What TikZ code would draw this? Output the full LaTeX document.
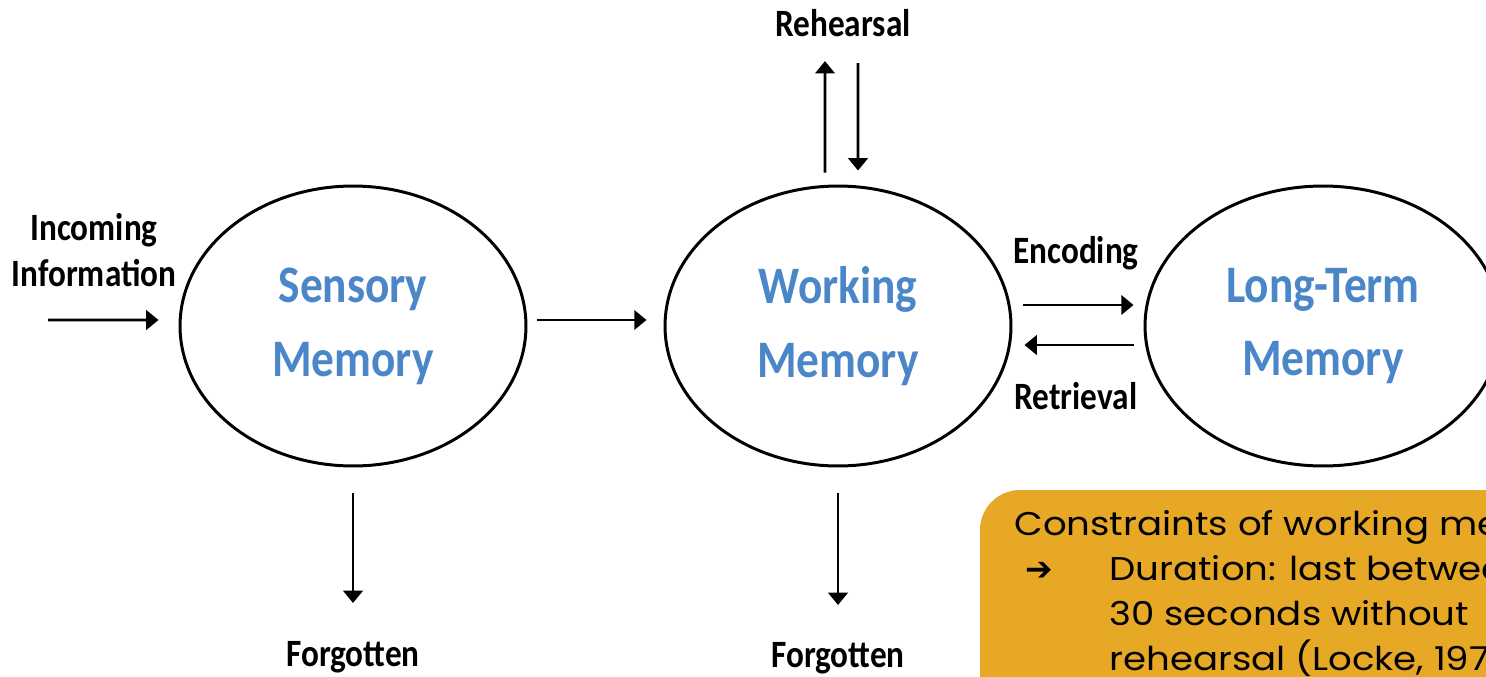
\documentclass[tikz,border=0pt]{standalone}
\usepackage{fontspec}
\newfontfamily\handfont[FakeStretch=0.86]{Carlito}
\newfontfamily\notefont[FakeStretch=1.13]{Poppins}
\newfontfamily\symfont{DejaVu Sans}
\usetikzlibrary{
  shapes.geometric,
  positioning,
  arrows.meta
}

\definecolor{memblue}{HTML}{4A86C8}
\definecolor{notegold}{HTML}{E6A825}

\tikzset{
  mem/.style = {ellipse, draw, line width=1.7pt, inner sep=0pt,
    minimum width=6.92cm, minimum height=5.6cm, text=memblue, align=center,
    font=\handfont\bfseries\fontsize{30}{42}\selectfont},
  lbl/.style = {inner sep=0pt, align=center,
    font=\handfont\bfseries\fontsize{22}{26}\selectfont},
  noteline/.style = {inner sep=0pt, anchor=base west,
    font=\notefont\fontsize{18.7}{25.5}\selectfont}
}

\begin{document}
\begin{tikzpicture}[x=0.02cm, y=-0.02cm, line width=1.6pt,
    >={Triangle[length=7pt, width=11pt]}]
    \useasboundingbox (0,0) rectangle (1486,676);
    \clip (0,0) rectangle (1486,676);

    % the three stores
    \node[mem] (sensory) at (353,326) {Sensory\\Memory};
    \node[mem] (working) at (838,326) {Working\\Memory};
    \node[mem, minimum width=7.12cm] (longterm) at (1323,326) {Long-Term\\Memory};

    % labels
    \node[lbl] (incoming) at (94,250) {Incoming\\Information};
    \node[lbl] (rehearsal) at (843,23) {Rehearsal};
    \node[lbl] (encoding) at (1076,253) {Encoding};
    \node[lbl, below=2.2cm of encoding] (retrieval) {Retrieval};
    \node[lbl, anchor=north] (forgot1) at (353,640) {Forgotten};
    \node[lbl, anchor=north] (forgot2) at (838,641) {Forgotten};
    \coordinate (in) at (48,320);

    % flow
    \draw[->, shorten >=0.4cm] (in) -- ([yshift=0.12cm]sensory.west);
    \draw[->, shorten <=0.2cm, shorten >=0.34cm]
      ([yshift=0.12cm]sensory.east) -- ([yshift=0.12cm]working.west);
    \draw[->, shorten <=0.22cm, shorten >=0.2cm]
      ([yshift=0.42cm]working.east) -- ([yshift=0.42cm]longterm.west);
    \draw[->, shorten <=0.2cm, shorten >=0.24cm]
      ([yshift=-0.38cm]longterm.west) -- ([yshift=-0.38cm]working.east);
    \draw[->, shorten <=0.24cm, shorten >=0.46cm]
      ([xshift=-0.26cm]working.north) -- ([xshift=-0.36cm]rehearsal.south);
    \draw[->, shorten <=0.5cm, shorten >=0.28cm]
      ([xshift=0.3cm]rehearsal.south) -- ([xshift=0.4cm]working.north);
    \draw[->, shorten <=0.52cm, shorten >=0.74cm] (sensory.south) -- (forgot1.north);
    \draw[->, shorten <=0.52cm, shorten >=0.72cm] (working.south) -- (forgot2.north);

    % note box
    \fill[notegold, rounded corners=0.8cm] (980,490) rectangle (1560,720);
    \node[noteline] (head) at (1013,535) {Constraints of working memory};
    \node[noteline] (bullet) at (1024,580) {\symfont\bfseries ➔};
    \node[noteline] (item1) at (1108,580) {Duration: last between};
    \node[noteline] (item2) at (1108,625) {30 seconds without};
    \node[noteline] (item3) at (1108,670) {rehearsal (Locke, 1971)};
\end{tikzpicture}
\end{document}
